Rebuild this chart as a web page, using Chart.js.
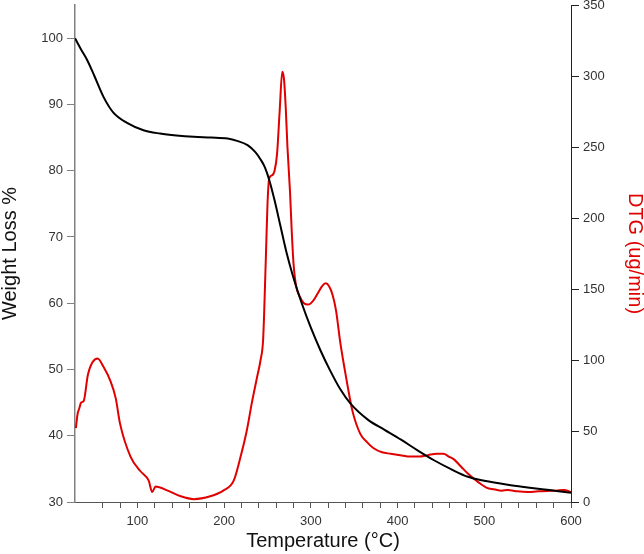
<!DOCTYPE html>
<html>
<head>
<meta charset="utf-8">
<script src="https://cdn.jsdelivr.net/npm/chart.js@4.4.0/dist/chart.umd.min.js"></script>
<style>
html, body { margin: 0; padding: 0; background: #fff; }
</style>
</head>
<body>
<canvas id="tga-chart" width="644" height="554"></canvas>
<script>
// weight loss curve (black, left axis)
var tempW = [28, 35, 42, 50, 61, 72, 88, 107, 126, 145, 165, 185, 204, 215, 227, 236, 242, 247, 252, 258, 265, 272, 280, 290, 300, 311, 322, 334, 346, 366, 385, 404, 423, 442, 461, 481, 500, 527, 550, 575, 600];
var weight = [100, 98.3, 96.7, 94.4, 91.1, 88.8, 87.2, 86.1, 85.6, 85.3, 85.1, 85.0, 84.85, 84.5, 83.85, 82.8, 81.7, 80.5, 78.6, 75.6, 71.6, 67.6, 63.8, 59.8, 56.3, 52.9, 49.9, 47.0, 44.8, 42.4, 40.9, 39.4, 37.8, 36.3, 35.0, 33.8, 33.2, 32.6, 32.2, 31.8, 31.4];

// DTG curve (red, right axis)
var tempD = [29, 31, 33, 35, 38, 43, 54, 61, 69, 75, 80, 92, 103, 113, 117, 121, 135, 150, 165, 184, 199, 211, 219, 226, 232, 238, 242, 245, 248, 250, 252, 255, 258, 261, 264, 267, 269, 271, 273, 276, 278, 280, 283, 287, 292, 297, 303, 308, 313, 317, 321, 325, 329, 334, 338, 342, 348, 357, 365, 372, 382, 392, 403, 415, 425, 435, 445, 453, 459, 465, 473, 481, 493, 503, 511, 520, 527, 538, 550, 562, 573, 583, 592, 600];
var dtg = [52, 62, 66, 70, 71, 90, 101, 95, 85, 73, 55, 32, 22, 15, 7, 11, 8, 4, 2, 4, 8, 15, 32, 50, 70, 88, 100, 115, 170, 210, 228, 230, 233, 245, 275, 303, 298, 278, 250, 218, 190, 168, 152, 145, 140, 139, 142, 147, 152, 154, 152, 146, 135, 112, 97, 83, 64, 48, 42, 38, 35, 34, 33, 32, 32, 33, 34, 34, 32, 30, 25, 20, 14, 10, 9, 8, 8.5, 7.5, 7, 7.5, 7.8, 8, 8.5, 7];

var xTicks = [100, 200, 300, 400, 500, 600];

var fam = '"Liberation Sans", Arial, sans-serif';

function toPoints(xs, ys) {
    return xs.map(function(x, i) { return { x: x, y: ys[i] }; });
}

var ctx = document.getElementById('tga-chart').getContext('2d');

var tgaChart = new Chart(ctx, {
    type: 'line',
    data: {
        datasets: [{
            label: 'Weight Loss %',
            data: toPoints(tempW, weight),
            yAxisID: 'yW',
            borderColor: '#000',
            borderWidth: 2,
            pointRadius: 0,
            cubicInterpolationMode: 'monotone',
            fill: false
        }, {
            label: 'DTG (ug/min)',
            data: toPoints(tempD, dtg),
            yAxisID: 'yD',
            borderColor: '#e00000',
            borderWidth: 2,
            pointRadius: 0,
            cubicInterpolationMode: 'monotone',
            fill: false
        }]
    },
    options: {
        responsive: false,
        animation: false,
        layout: { padding: { top: 5 } },
        plugins: { legend: { display: false }, tooltip: { enabled: false } },
        scales: {
            x: {
                type: 'linear',
                min: 28,
                max: 600,
                afterBuildTicks: function(s) {
                    s.ticks = s.ticks.filter(function(t) { return t.value % 20 === 0; });
                },
                afterFit: function(s) { s.height = 52; },
                ticks: {
                    stepSize: 20,
                    autoSkip: false,
                    maxRotation: 0,
                    padding: 6,
                    color: '#333',
                    font: { family: fam, size: 13 },
                    callback: function(v) { return xTicks.indexOf(v) >= 0 ? v : ''; }
                },
                grid: { drawOnChartArea: false, tickLength: 6, color: '#555' },
                border: { color: '#555', width: 1 },
                title: {
                    display: true,
                    text: 'Temperature (°C)',
                    color: '#111',
                    font: { family: fam, size: 20, lineHeight: 1.2 },
                    padding: { top: 0, bottom: 1 }
                }
            },
            yW: {
                position: 'left',
                min: 30,
                max: 105,
                afterBuildTicks: function(s) {
                    s.ticks = s.ticks.filter(function(t) { return t.value % 10 === 0; });
                },
                afterFit: function(s) { s.width = 75; s.paddingTop = 0; s.paddingBottom = 0; },
                ticks: {
                    stepSize: 10,
                    padding: 4,
                    color: '#333',
                    font: { family: fam, size: 13 }
                },
                grid: { drawOnChartArea: false, tickLength: 8, color: '#808080' },
                border: { color: '#808080', width: 1.5 },
                title: {
                    display: true,
                    text: 'Weight Loss %',
                    color: '#111',
                    font: { family: fam, size: 20, lineHeight: 1.0 },
                    padding: 0
                }
            },
            yD: {
                position: 'right',
                min: 0,
                max: 350,
                afterFit: function(s) { s.width = 73; s.paddingTop = 0; s.paddingBottom = 0; },
                ticks: {
                    stepSize: 50,
                    padding: 4,
                    color: '#333',
                    font: { family: fam, size: 13 }
                },
                grid: { drawOnChartArea: false, tickLength: 8, color: '#222' },
                border: { color: '#222', width: 1 },
                title: {
                    display: true,
                    text: 'DTG (ug/min)',
                    color: '#e00000',
                    font: { family: fam, size: 20, lineHeight: 0.9 },
                    padding: 0
                }
            }
        }
    }
});
</script>
</body>
</html>
